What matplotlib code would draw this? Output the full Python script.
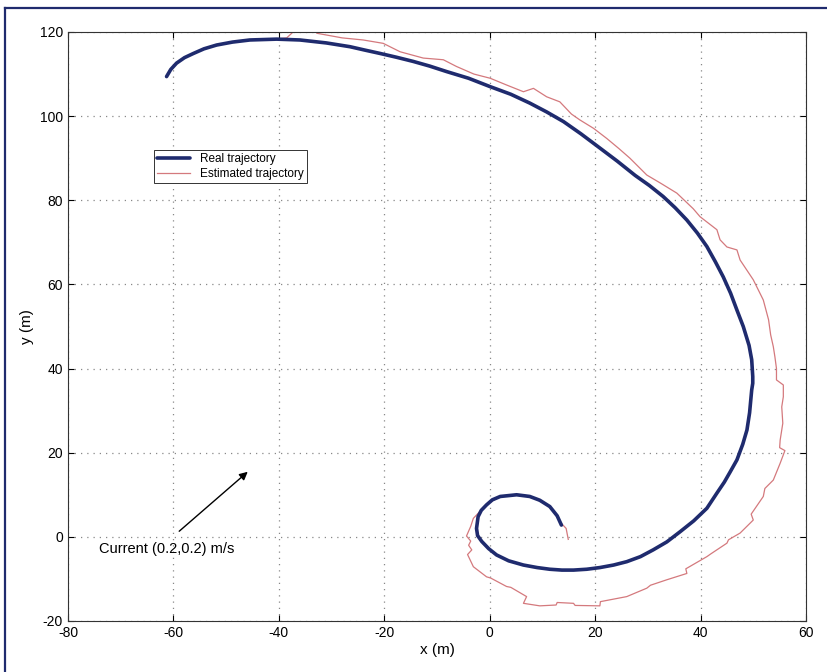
import matplotlib.pyplot as plt
from matplotlib.lines import Line2D

# real trajectory (inner start -> outer end)
real_x = [13.6, 12.8, 11.4, 9.5, 7.6, 5.1, 2.0, 0.5, -0.6, -1.6, -2.2, -2.5, -2.3,
          -1.5, -0.2, 1.3, 3.6, 6.4, 9.0, 11.4, 13.7, 15.9, 18.4, 20.9, 23.5, 26.0,
          28.6, 31.0, 33.6, 36.1, 38.7, 41.2, 43.1, 44.5, 45.6, 46.9, 48.0, 48.8,
          49.3, 49.7, 49.9, 49.9, 49.7, 49.2, 48.1, 46.9, 45.7, 44.3, 42.8, 41.2,
          39.4, 37.4, 35.2, 32.9, 30.3, 27.6, 24.2, 20.6, 17.3, 14.0, 10.8, 7.6,
          4.0, 0.1, -4.0, -8.2, -11.4, -14.5, -17.7, -20.8, -23.7, -26.5, -31.0,
          -36.0, -40.4, -45.5, -48.8, -51.8, -54.2, -56.2, -57.9, -59.4, -60.5, -61.3]
real_y = [2.8, 5.0, 7.2, 8.7, 9.6, 10.0, 9.6, 8.8, 7.6, 6.3, 4.8, 2.0, 0.3,
          -1.1, -2.8, -4.3, -5.7, -6.7, -7.3, -7.7, -7.9, -7.9, -7.7, -7.3, -6.7,
          -5.9, -4.7, -3.1, -1.2, 1.2, 3.8, 6.8, 10.4, 13.0, 15.4, 18.3, 22.0,
          25.4, 29.5, 34.9, 36.5, 38.1, 42.1, 45.5, 50.0, 53.9, 57.9, 61.8, 65.4,
          69.0, 72.2, 75.3, 78.2, 80.9, 83.5, 85.9, 89.3, 92.7, 95.8, 98.7, 101.0,
          103.1, 105.2, 107.0, 109.0, 110.6, 111.9, 113.0, 114.0, 114.9, 115.7,
          116.5, 117.4, 118.1, 118.3, 118.1, 117.6, 116.9, 116.0, 114.9, 113.9,
          112.6, 111.1, 109.4]

# estimated trajectory
est_x = [14.9, 14.5, 13.6, 11.4, 7.6, 5.1, 2.0, -0.6, -3.1, -3.6, -4.4, -3.6, -4.0,
         -3.4, -4.2, -3.1, -0.6, 0.2, 3.2, 4.0, 7.0, 6.4, 9.5, 12.6, 12.8, 15.9,
         16.2, 20.9, 21.0, 26.0, 29.8, 30.5, 33.6, 37.4, 37.2, 41.2, 42.0, 45.0,
         45.3, 47.5, 50.0, 49.6, 51.9, 52.2, 53.8, 55.1, 56.0, 55.0, 55.1, 55.6,
         55.4, 55.7, 55.7, 54.4, 54.4, 54.1, 53.8, 53.3, 52.9, 51.9, 50.0, 47.5,
         46.9, 45.0, 43.7, 43.1, 39.9, 38.6, 35.5, 32.5, 29.8, 26.6, 24.5, 22.2,
         19.7, 17.1, 15.5, 13.3, 10.8, 8.3, 6.4, 3.2, 0.1, -3.0, -6.3, -8.8,
         -12.6, -17.0, -20.2, -24.0, -28.0, -32.8, -33.0, -37.3, -38.5, -40.4,
         -45.5, -48.8, -51.8, -54.2, -56.2, -57.9, -59.4, -60.5, -61.3]
est_y = [-0.6, 2.0, 3.2, 7.3, 9.7, 10.1, 9.7, 7.7, 4.4, 2.5, 0.2, -1.0, -2.0,
         -3.1, -4.2, -7.1, -9.5, -9.8, -11.8, -12.0, -14.2, -15.8, -16.4, -16.2,
         -15.6, -15.8, -16.3, -16.4, -15.4, -14.2, -12.2, -11.5, -10.2, -8.7, -7.6,
         -4.7, -4.0, -1.5, -0.7, 0.9, 4.0, 5.4, 9.6, 11.5, 13.5, 17.5, 20.5, 21.2,
         23.0, 27.0, 30.9, 33.3, 36.1, 37.3, 40.0, 42.8, 45.2, 48.0, 51.6, 56.3,
         61.1, 65.8, 68.2, 68.9, 70.6, 73.0, 76.1, 78.0, 81.7, 84.0, 86.0, 90.0,
         92.3, 94.7, 97.1, 99.1, 100.5, 103.4, 104.6, 106.6, 105.8, 107.4, 109.0,
         110.0, 111.8, 113.4, 113.8, 115.3, 117.3, 118.1, 118.6, 119.7, 120.3,
         120.0, 118.6, 118.3, 118.1, 117.6, 116.9, 116.0, 114.9, 113.9, 112.6,
         111.1, 109.4]

xticks = [-80, -60, -40, -20, 0, 20, 40, 60]
yticks = [-20, 0, 20, 40, 60, 80, 100, 120]

plt.rcParams['font.family'] = ['Liberation Sans', 'DejaVu Sans']
plt.rcParams['axes.unicode_minus'] = False

fig = plt.figure(figsize=(8.27, 6.72), dpi=100)
ax = fig.add_axes([0.0822, 0.0759, 0.8924, 0.8765])

ax.plot(est_x, est_y, color='#d4797d', lw=0.9, label='Estimated trajectory', zorder=2)
ax.plot(real_x, real_y, color='#1f2b6e', lw=2.6, label='Real trajectory',
        solid_capstyle='round', solid_joinstyle='round', zorder=3)

ax.set_xlim(-80, 60)
ax.set_ylim(-20, 120)
ax.set_xticks(xticks)
ax.set_yticks(yticks)
ax.tick_params(direction='in', top=True, right=True, labelsize=10, length=4)
ax.grid(True, linestyle=(0, (1, 4)), color='#888888', lw=0.9)
for s in ax.spines.values():
    s.set_linewidth(0.8)
    s.set_color('#333333')

ax.set_xlabel('x (m)', fontsize=11, labelpad=2)
ax.set_ylabel('y (m)', fontsize=11, labelpad=4)

h, l = ax.get_legend_handles_labels()
leg = ax.legend([h[1], h[0]], [l[1], l[0]], loc='upper left',
                bbox_to_anchor=(0.108, 0.81), fontsize=8.5, fancybox=False,
                framealpha=1, edgecolor='#333333', borderpad=0.3,
                handlelength=2.8, labelspacing=0.2)
leg.get_frame().set_linewidth(0.7)

ax.annotate('', xy=(-45.5, 15.9), xytext=(-59.3, 0.9),
            arrowprops=dict(arrowstyle='-|>', color='black', lw=1.0,
                            mutation_scale=12))
ax.text(-74.2, -2.8, 'Current (0.2,0.2) m/s', fontsize=10.5, va='center', ha='left')

# dark frame of the scanned page
fig.add_artist(Line2D([0.006, 0.006], [0.0, 0.988], transform=fig.transFigure,
                      color='#1f2b6e', lw=1.6))
fig.add_artist(Line2D([0.006, 1.0], [0.988, 0.988], transform=fig.transFigure,
                      color='#1f2b6e', lw=1.6))

fig.savefig('out.png', dpi=100)
